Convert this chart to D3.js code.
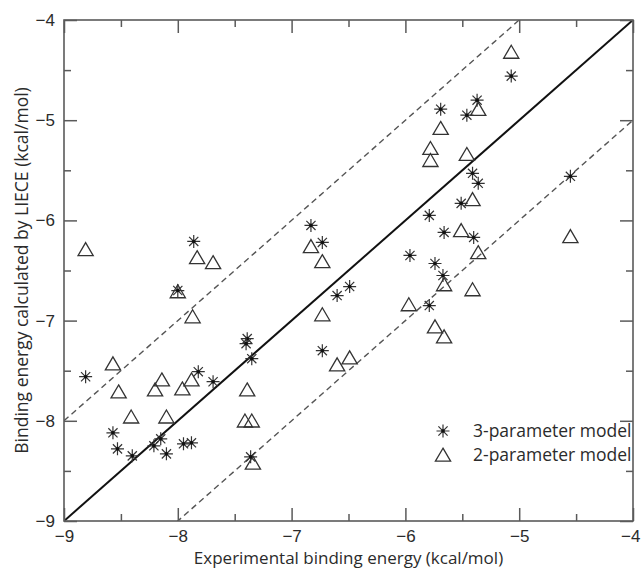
<!DOCTYPE html>
<html>
<head>
<meta charset="utf-8">
<script src="https://cdn.jsdelivr.net/npm/d3@7/dist/d3.min.js"></script>
<style>
  html, body { margin: 0; padding: 0; background: #fff; }
  svg { display: block; }
</style>
</head>
<body>
<div id="chart"></div>
<script>
/* ---- Data (kcal/mol) ---- */
const threeParamX = [-8.81, -8.57, -8.53, -8.40, -8.21, -8.15, -8.10, -7.95, -7.88, -8.00,
  -7.86, -7.82, -7.69, -7.39, -7.40, -7.35, -7.36, -6.83, -6.73, -6.49,
  -6.60, -6.73, -5.96, -5.79, -5.79, -5.74, -5.67, -5.66, -5.69, -5.51,
  -5.46, -5.41, -5.40, -5.37, -5.36, -5.07, -4.55];
const threeParamY = [-7.56, -8.12, -8.28, -8.35, -8.25, -8.18, -8.33, -8.23, -8.22, -6.70,
  -6.21, -7.51, -7.61, -7.18, -7.23, -7.38, -8.36, -6.05, -6.22, -6.66,
  -6.75, -7.30, -6.35, -5.95, -6.85, -6.43, -6.55, -6.12, -4.89, -5.83,
  -4.95, -5.53, -6.17, -4.80, -5.63, -4.56, -5.56];

const twoParamX = [-8.81, -8.57, -8.52, -8.41, -8.20, -8.14, -8.10, -8.00, -7.96, -7.88,
  -7.87, -7.83, -7.69, -7.39, -7.41, -7.35, -7.34, -6.83, -6.73, -6.73,
  -6.60, -6.49, -5.97, -5.78, -5.78, -5.74, -5.69, -5.66, -5.66, -5.51,
  -5.46, -5.41, -5.41, -5.36, -5.36, -5.07, -4.55];
const twoParamY = [-6.29, -7.43, -7.71, -7.96, -7.69, -7.59, -7.96, -6.71, -7.68, -7.59,
  -6.96, -6.37, -6.42, -7.69, -8.00, -8.00, -8.42, -6.26, -6.41, -6.94,
  -7.44, -7.37, -6.84, -5.28, -5.40, -7.06, -5.08, -6.64, -7.16, -6.10,
  -5.34, -5.79, -6.69, -4.89, -6.32, -4.32, -6.16];

const seriesNames = ['3-parameter model', '2-parameter model'];
const majorTicks = [-9, -8, -7, -6, -5, -4];
const minorTicks = [-8.5, -7.5, -6.5, -5.5, -4.5];
// reference lines: offset from y = x
const refOffsets = [0, 1, -1];

const W = 641, H = 569;
const margin = { left: 64, top: 20, right: 8, bottom: 48 };
const pw = W - margin.left - margin.right;
const ph = H - margin.top - margin.bottom;

const x = d3.scaleLinear().domain([-9, -4]).range([0, pw]);
const y = d3.scaleLinear().domain([-9, -4]).range([ph, 0]);

const svg = d3.select('#chart').append('svg')
  .attr('width', W).attr('height', H)
  .style('font-family', "'Open Sans', 'DejaVu Sans', sans-serif");

const g = svg.append('g').attr('transform', `translate(${margin.left},${margin.top})`);

const axisColor = '#5a5a5a';
const textColor = '#2b2b2b';

svg.append('defs').append('clipPath').attr('id', 'plotClip')
  .append('rect').attr('width', pw).attr('height', ph);

/* ---- Reference lines ---- */
const lines = g.append('g').attr('clip-path', 'url(#plotClip)');
refOffsets.forEach(off => {
  lines.append('line')
    .attr('x1', x(-9)).attr('y1', y(-9 + off))
    .attr('x2', x(-4)).attr('y2', y(-4 + off))
    .attr('stroke', off === 0 ? '#111' : '#555')
    .attr('stroke-width', off === 0 ? 2 : 1.4)
    .attr('stroke-dasharray', off === 0 ? null : '6,4');
});

/* ---- Axes (ticks pointing inward on all sides) ---- */
function styleAxis(sel) {
  sel.select('.domain').remove();
  sel.selectAll('.tick line').attr('stroke', axisColor).attr('stroke-width', 1.5);
  sel.selectAll('.tick text').attr('fill', textColor).style('font-size', '17px');
}

const axes = [
  { fn: d3.axisBottom, scale: x, t: `translate(0,${ph})`, labels: true },
  { fn: d3.axisTop, scale: x, t: 'translate(0,0)', labels: false },
  { fn: d3.axisLeft, scale: y, t: 'translate(0,0)', labels: true },
  { fn: d3.axisRight, scale: y, t: `translate(${pw},0)`, labels: false }
];
axes.forEach((a, i) => {
  const major = g.append('g').attr('transform', a.t)
    .call(a.fn(a.scale).tickValues(majorTicks).tickSizeInner(-13).tickSizeOuter(0)
      .tickPadding(9).tickFormat(a.labels ? d3.format('d') : ''));
  styleAxis(major);
  // last x label sits at the window edge; pull it in so it stays whole
  if (i === 0) {
    major.selectAll('.tick').filter(d => d === -4).select('text')
      .attr('text-anchor', 'end').attr('x', 7);
  }
  const minor = g.append('g').attr('transform', a.t)
    .call(a.fn(a.scale).tickValues(minorTicks).tickSizeInner(-7).tickSizeOuter(0).tickFormat(''));
  styleAxis(minor);
});

/* ---- Frame ---- */
g.append('rect').attr('width', pw).attr('height', ph)
  .attr('fill', 'none').attr('stroke', axisColor).attr('stroke-width', 1.6);

/* ---- Markers ---- */
const astPath = (() => {
  const r = 6.5, p = d3.path();
  [0, 45, 90, 135].forEach(a => {
    const rad = a * Math.PI / 180;
    p.moveTo(-r * Math.cos(rad), -r * Math.sin(rad));
    p.lineTo(r * Math.cos(rad), r * Math.sin(rad));
  });
  return p.toString();
})();
const triPath = 'M0,-6.8L7.6,6.2L-7.6,6.2Z';

function drawAsterisk(sel) {
  sel.append('path').attr('d', astPath).attr('stroke', '#333').attr('stroke-width', 1.2).attr('fill', 'none');
  sel.append('circle').attr('r', 1.8).attr('fill', '#111');
}
function drawTriangle(sel) {
  sel.append('path').attr('d', triPath).attr('fill', 'none').attr('stroke', '#333').attr('stroke-width', 1.3);
}

g.append('g').selectAll('g')
  .data(twoParamX.map((v, i) => [v, twoParamY[i]]))
  .join('g')
  .attr('transform', d => `translate(${x(d[0])},${y(d[1])})`)
  .call(drawTriangle);

g.append('g').selectAll('g')
  .data(threeParamX.map((v, i) => [v, threeParamY[i]]))
  .join('g')
  .attr('transform', d => `translate(${x(d[0])},${y(d[1])})`)
  .call(drawAsterisk);

/* ---- Legend ---- */
const legend = svg.append('g').attr('transform', 'translate(443,431)');
seriesNames.forEach((name, i) => {
  const row = legend.append('g').attr('transform', `translate(0,${i * 24})`);
  row.append('g').call(i === 0 ? drawAsterisk : drawTriangle);
  row.append('text').attr('x', 30).attr('y', 6)
    .attr('fill', textColor).style('font-size', '17.5px').text(name);
});

/* ---- Axis titles ---- */
svg.append('text')
  .attr('x', margin.left + pw / 2).attr('y', 564)
  .attr('text-anchor', 'middle').attr('fill', textColor)
  .style('font-size', '17px')
  .text('Experimental binding energy (kcal/mol)');

svg.append('text')
  .attr('transform', `translate(28,${margin.top + ph / 2}) rotate(-90)`)
  .attr('text-anchor', 'middle').attr('fill', textColor)
  .style('font-size', '17.5px')
  .text('Binding energy calculated by LIECE (kcal/mol)');
</script>
</body>
</html>
